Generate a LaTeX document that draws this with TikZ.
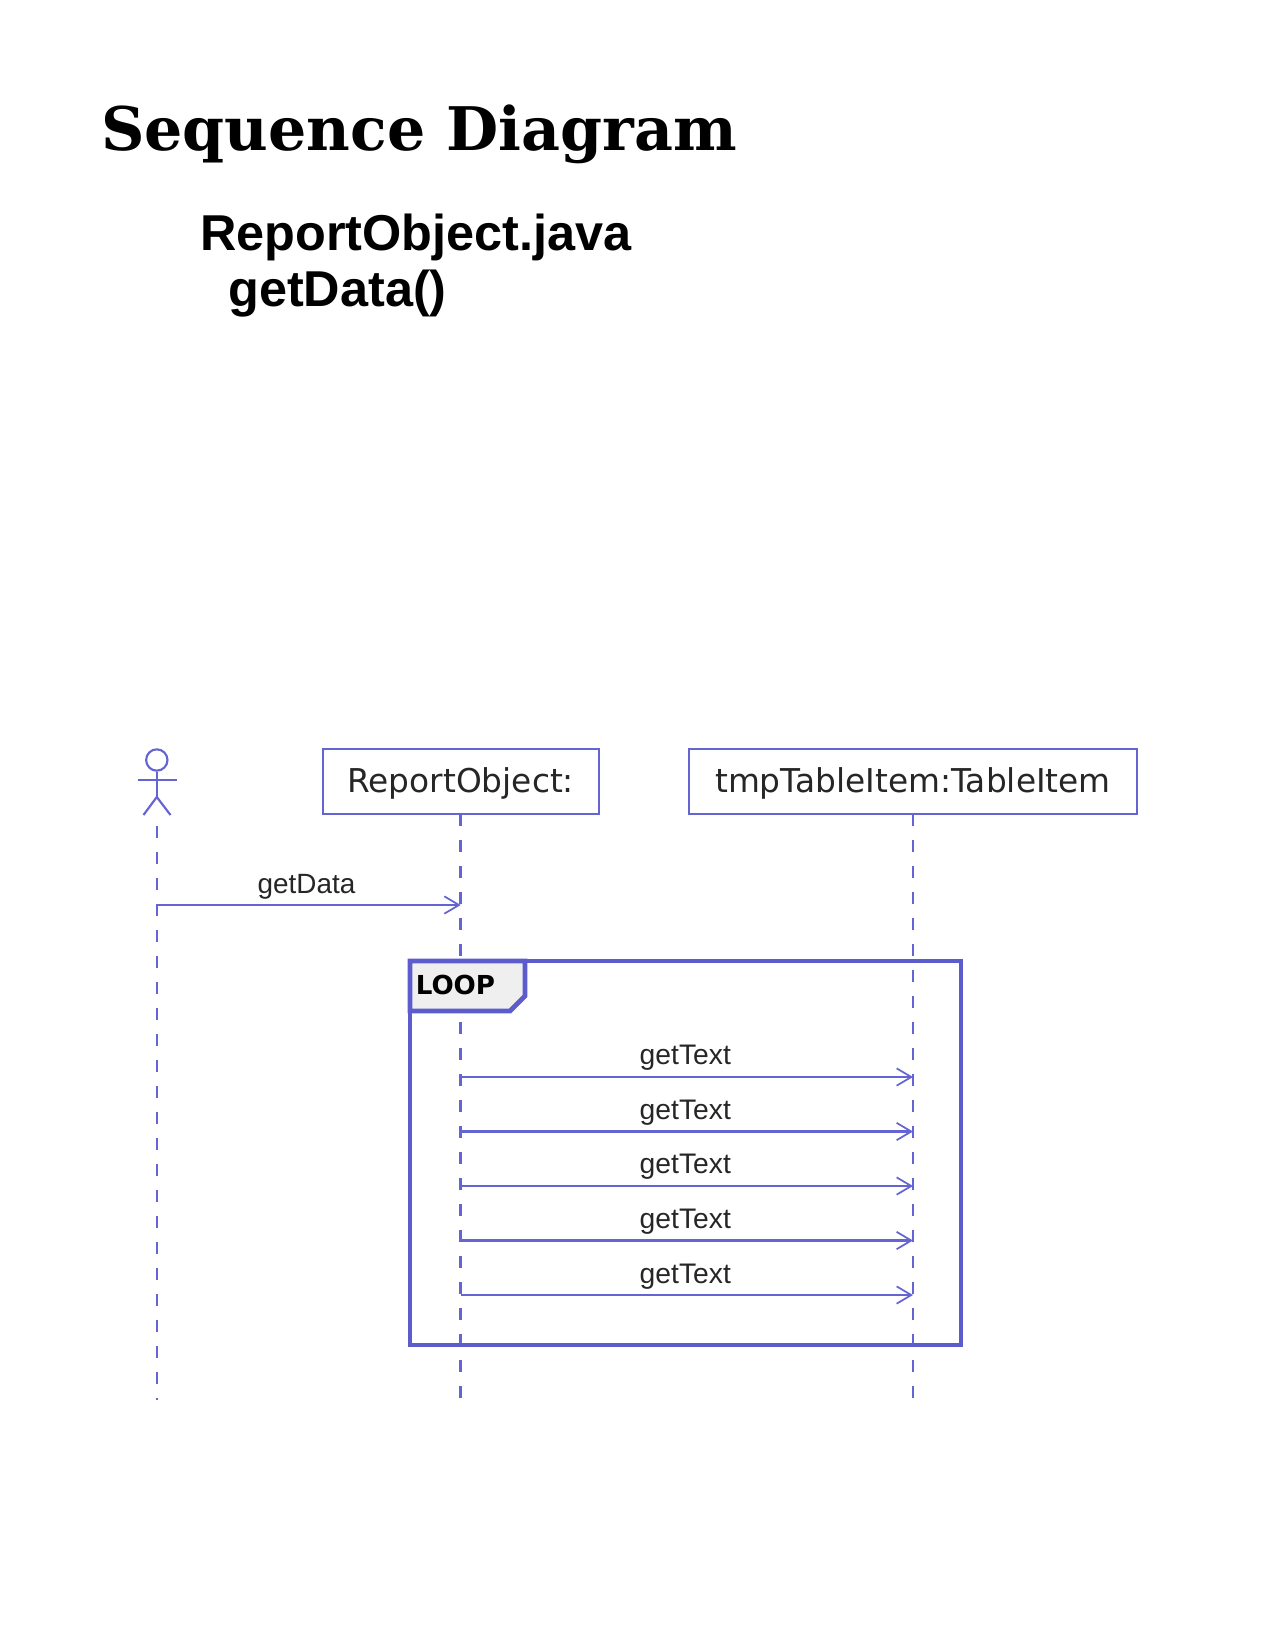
\documentclass[tikz,border=0pt]{standalone}
\usepackage{fontspec}
\setmainfont{Liberation Sans}
\newfontfamily\titlefont{DejaVu Serif}
\newfontfamily\dejavu{DejaVu Sans}
\usetikzlibrary{arrows.meta}
\definecolor{umlblue}{RGB}{100,100,210}
\definecolor{framemain}{RGB}{92,92,205}
\definecolor{tabgray}{RGB}{239,239,239}
\tikzset{
  x=0.75pt,y=-0.75pt,
  lifebox/.style={draw=umlblue,line width=1.6pt,fill=white,inner sep=0pt,minimum height=48.8pt,text height=20pt,text depth=3.5pt,font=\dejavu\fontsize{24.6}{28}\selectfont,text=black!85},
  lifeline/.style={draw=umlblue,line width=1.9pt,dash pattern=on 9pt off 10.5pt},
  message/.style={draw=umlblue,line width=1.7pt,-{Straight Barb[length=11pt,width=13pt,line width=1.3pt]}},
  msglabel/.style={inner sep=0pt,anchor=base,text=black!85},
  actorline/.style={draw=umlblue,line width=1.6pt},
  frameline/.style={draw=framemain,line width=3.5pt},
}
\begin{document}
\begin{tikzpicture}
\useasboundingbox (0,0) rectangle (1275,1650);
\fill[white] (0,0) rectangle (1275,1650);
\node[inner sep=0pt,anchor=base west,font=\titlefont\bfseries\fontsize{45.1}{50}\selectfont] (title) at (101,150) {Sequence Diagram};
\node[inner sep=0pt,anchor=base west,font=\bfseries\fontsize{37.8}{42}\selectfont] (file) at (200,250) {ReportObject.java};
\node[inner sep=0pt,anchor=base west,font=\bfseries\fontsize{37.8}{42}\selectfont] (method) at (228,306) {getData()};
% lifelines
\node[lifebox,minimum width=207pt] (obj) at (460.7,781.5) {ReportObject:};
\node[lifebox,minimum width=335.5pt] (item) at (913,781.5) {tmpTableItem:TableItem};
\coordinate (actorfoot) at (156.8,826);
\coordinate (actorend) at (156.8,1399.5);
\coordinate (objstart) at (460.7,814);
\coordinate (objend) at (460.7,1398);
\coordinate (itemstart) at (913,814);
\coordinate (itemend) at (913,1398);
\draw[lifeline] (actorfoot) -- (actorend);
\draw[lifeline] (objstart) -- (objend);
\draw[lifeline] (itemstart) -- (itemend);
% actor
\node[draw=umlblue,line width=1.6pt,circle,inner sep=0pt,minimum size=16pt] (head) at (156.8,760) {};
\coordinate (hip) at (156.8,797);
\coordinate (armL) at (137.5,780);
\coordinate (armR) at (176.5,780);
\coordinate (legL) at (143.5,815);
\coordinate (legR) at (170.5,815);
\draw[actorline] (head) -- (hip);
\draw[actorline] (armL) -- (armR);
\draw[actorline] (legL) -- (hip) -- (legR);
% first message
\coordinate (m0s) at (156.8,905);
\coordinate (m0e) at (460.7,905);
\draw[message] (m0s) -- (m0e);
\node[msglabel,font=\fontsize{20.9}{24}\selectfont] (m0l) at (306.5,893) {getData};
% frame
\coordinate (fa) at (410,961);
\coordinate (fb) at (961,1345);
\draw[frameline] (fa) rectangle (fb);
\draw[frameline,fill=tabgray] (fa) -- (525,961) -- (525,996) -- (510,1011) -- (410,1011) -- cycle;
\node[inner sep=0pt,anchor=base west,font=\dejavu\bfseries\fontsize{19.6}{24}\selectfont] (loop) at (415.5,994) {LOOP};
% loop messages
\foreach \i/\my/\ly in {1/1077/1064.5,2/1131.5/1119.5,3/1186/1173.5,4/1240.5/1228.5,5/1295/1283.5}{
  \coordinate (s\i) at (460.7,\my);
  \coordinate (e\i) at (913,\my);
  \draw[message] (s\i) -- (e\i);
  \node[msglabel,font=\fontsize{21.2}{24}\selectfont] (l\i) at (685.3,\ly) {getText};
}
\end{tikzpicture}
\end{document}
